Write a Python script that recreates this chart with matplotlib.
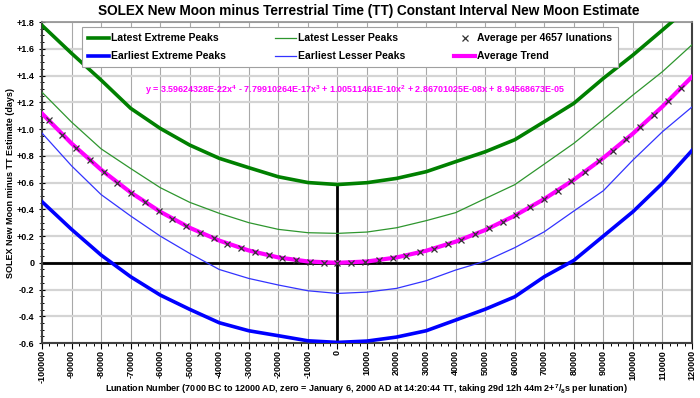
import matplotlib
matplotlib.use('Agg')
import matplotlib.pyplot as plt
from matplotlib.ticker import MultipleLocator, FuncFormatter

plt.rcParams['font.family'] = ['Liberation Sans', 'DejaVu Sans']
plt.rcParams['font.weight'] = 'bold'
plt.rcParams['mathtext.fontset'] = 'custom'
plt.rcParams['mathtext.rm'] = 'Liberation Sans:bold'
plt.rcParams['mathtext.it'] = 'Liberation Sans:bold'
plt.rcParams['mathtext.bf'] = 'Liberation Sans:bold'

# lunation grid for the peak curves (every 10000 lunations)
lunation = [-100000, -90000, -80000, -70000, -60000, -50000, -40000, -30000,
            -20000, -10000, 0, 10000, 20000, 30000, 40000, 50000, 60000,
            70000, 80000, 90000, 100000, 110000, 120000]

latest_extreme = [1.775, 1.566, 1.366, 1.155, 1.005, 0.880, 0.781, 0.711,
                  0.643, 0.600, 0.585, 0.599, 0.631, 0.681, 0.756, 0.830,
                  0.920, 1.055, 1.192, 1.379, 1.553, 1.740, 1.930]
latest_lesser = [1.275, 1.052, 0.852, 0.705, 0.562, 0.452, 0.370, 0.300,
                 0.250, 0.225, 0.220, 0.230, 0.262, 0.315, 0.375, 0.480,
                 0.584, 0.738, 0.893, 1.072, 1.254, 1.429, 1.630]
earliest_lesser = [0.970, 0.725, 0.510, 0.350, 0.200, 0.070, -0.050, -0.117,
                   -0.166, -0.209, -0.229, -0.219, -0.191, -0.134, -0.054, 0.012,
                   0.113, 0.232, 0.387, 0.539, 0.768, 0.980, 1.165]
earliest_extreme = [0.457, 0.250, 0.058, -0.104, -0.241, -0.348, -0.448, -0.508,
                    -0.545, -0.583, -0.595, -0.585, -0.555, -0.508, -0.428, -0.347,
                    -0.254, -0.104, 0.018, 0.200, 0.382, 0.595, 0.840]
average_trend = [1.116, 0.892, 0.696, 0.526, 0.382, 0.262, 0.166, 0.092,
                 0.040, 0.010, 0.000, 0.010, 0.040, 0.090, 0.158, 0.245,
                 0.352, 0.477, 0.621, 0.784, 0.966, 1.168, 1.391]

# averages per 4657 lunations
avg_step = 4657
avg_index = list(range(-21, 26))
avg_values = [1.064, 0.959, 0.861, 0.768, 0.681, 0.599, 0.524, 0.454, 0.389,
              0.330, 0.275, 0.226, 0.182, 0.143, 0.109, 0.080, 0.055, 0.035,
              0.020, 0.009, 0.002, 0.000, 0.002, 0.009, 0.020, 0.035, 0.054,
              0.078, 0.106, 0.137, 0.173, 0.213, 0.257, 0.306, 0.358, 0.414,
              0.475, 0.539, 0.608, 0.681, 0.758, 0.839, 0.924, 1.014, 1.108,
              1.206, 1.309]
avg_x = [k * avg_step for k in avg_index]

equation = ('y = 3.59624328E-22x$^4$ - 7.79910264E-17x$^3$ + 1.00511461E-10x$^2$'
            ' + 2.86701025E-08x + 8.94568673E-05')

fig = plt.figure(figsize=(7, 3.98), dpi=100)
ax = fig.add_axes([0.06, 0.138, 0.9286, 0.8067])

ax.plot(lunation, latest_extreme, color='#008000', lw=2.6, label='Latest Extreme Peaks', zorder=3)
ax.plot(lunation, earliest_extreme, color='#0000ff', lw=2.6, label='Earliest Extreme Peaks', zorder=3)
ax.plot(lunation, latest_lesser, color='#2e962e', lw=0.9, label='Latest Lesser Peaks', zorder=3)
ax.plot(lunation, earliest_lesser, color='#3333ff', lw=0.9, label='Earliest Lesser Peaks', zorder=3)
ax.plot(avg_x, avg_values, ls='none', marker='x', ms=4.5, mew=0.9, color='#333333',
        label='Average per 4657 lunations', zorder=5)
ax.plot(lunation, average_trend, color='#ff00ff', lw=3, label='Average Trend', zorder=4)

# zero axes
ax.axhline(0, color='black', lw=2, zorder=2)
ax.plot([0, 0], [-0.6, latest_extreme[lunation.index(0)]], color='black', lw=2, zorder=2)

ax.set_xlim(-100000, 120000)
ax.set_ylim(-0.6, 1.8)
ax.xaxis.set_major_locator(MultipleLocator(10000))
ax.xaxis.set_minor_locator(MultipleLocator(2500))
ax.yaxis.set_major_locator(MultipleLocator(0.2))
ax.yaxis.set_minor_locator(MultipleLocator(0.05))
ax.xaxis.set_major_formatter(FuncFormatter(lambda v, p: '%d' % round(v)))
ax.yaxis.set_major_formatter(FuncFormatter(
    lambda v, p: '0' if abs(v) < 1e-9 else ('%+.1f' % v)))
ax.tick_params(axis='x', which='major', labelsize=6.5, rotation=90, length=4, width=0.8, pad=1)
ax.tick_params(axis='y', which='major', labelsize=6.5, length=4, width=0.8, direction='inout')
ax.tick_params(axis='x', which='minor', length=2.5, width=0.7)
ax.tick_params(axis='y', which='minor', length=3, width=0.7, direction='inout')

ax.grid(axis='x', which='major', color='#a8a8a8', lw=0.8, zorder=0)
ax.grid(axis='y', which='major', color='#d4d4d4', lw=1.6, zorder=0)
for side in ['left', 'bottom', 'right']:
    ax.spines[side].set_color('#404040')
    ax.spines[side].set_linewidth(1.5)
ax.spines['top'].set_color('#909090')
ax.spines['top'].set_linewidth(1.2)

leg = ax.legend(loc='upper left', bbox_to_anchor=(0.0615, 0.984), ncol=3, fontsize=7.5,
                frameon=True, fancybox=False, edgecolor='#a0a0a0', framealpha=1,
                handlelength=2.0, handletextpad=0.2, columnspacing=4.7,
                borderpad=0.6, labelspacing=0.75, borderaxespad=0)
leg.get_frame().set_linewidth(0.8)
leg.set_zorder(6)

ax.text(6000, 1.29, equation, color='#ff00ff', fontsize=6.5,
        fontweight='bold', ha='center', va='center', zorder=6)

fig.suptitle('SOLEX New Moon minus Terrestrial Time (TT) Constant Interval New Moon Estimate',
             x=0.527, y=0.99, fontsize=9.8, fontweight='bold', va='top')
ax.set_ylabel('SOLEX New Moon minus TT Estimate (days)', fontsize=6.5, fontweight='bold', labelpad=1)
fig.text(0.523, 0.021, 'Lunation Number (7000 BC to 12000 AD, zero = January 6, 2000 AD at 14:20:44 TT, '
         'taking 29d 12h 44m 2+$^{7}$/$_{8}$s per lunation)', fontsize=6.5, fontweight='bold',
         ha='center', va='center')

fig.savefig('out.png', dpi=100)
